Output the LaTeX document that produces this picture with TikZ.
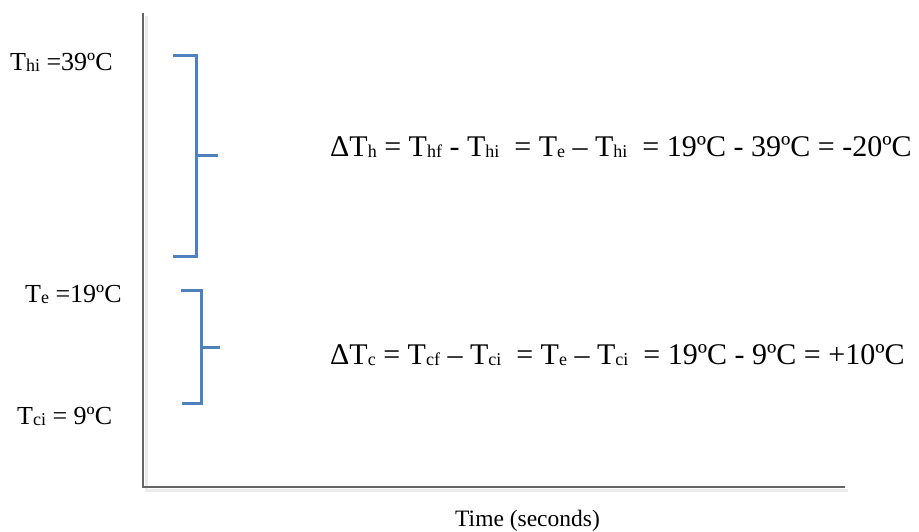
\documentclass[tikz,border=0pt]{standalone}
\usepackage{fontspec}
\setmainfont{Liberation Serif}
\begin{document}
\begin{tikzpicture}[x=1pt,y=-1pt,
  axis/.style={draw=black!60,line width=2.4pt},
  shade/.style={draw=black!8,line width=3pt},
  brk/.style={draw=brkblue,line width=3pt,line join=miter,line cap=butt},
  lbl/.style={anchor=base west,inner sep=0pt,font=\fontsize{26}{30}\selectfont},
  eqn/.style={anchor=base west,inner sep=0pt,font=\fontsize{30}{34}\selectfont},
  ttl/.style={anchor=base west,inner sep=0pt,font=\fontsize{23.5}{27}\selectfont}]
\definecolor{brkblue}{RGB}{79,129,189}
\newcommand\lo[1]{\raisebox{-1.5pt}{\fontsize{18}{18}\selectfont #1}}
\useasboundingbox (0,0) rectangle (919,531);
% axes
\coordinate (top) at (143,13);
\coordinate (org) at (143,487);
\coordinate (end) at (845,487);
\draw[shade] ([shift={(3,3)}]top) -- ([shift={(3,3)}]org) -- ([shift={(3,3)}]end);
\draw[axis] (top) -- (org) -- (end);
% upper bracket
\draw[brk] (173,55) -- (196,55) -- (196,256) -- (173,256);
\draw[brk] (196,155) -- (218,155);
% lower bracket
\draw[brk] (181,290) -- (201,290) -- (201,403) -- (182,403);
\draw[brk] (201,347) -- (220,347);
% labels
\node[lbl] (thi) at (10,70) {T\lo{hi} =39ºC};
\node[lbl] (te) at (25,302) {T\lo{e} =19ºC};
\node[lbl] (tci) at (17,424) {T\lo{ci} = 9ºC};
\node[eqn] (eqh) at (330,156) {ΔT\lo{h} = T\lo{hf} - T\lo{hi} \ = T\lo{e} – T\lo{hi} \ = 19ºC - 39ºC = -20ºC};
\node[eqn] (eqc) at (330,364) {ΔT\lo{c} = T\lo{cf} – T\lo{ci} \ = T\lo{e} – T\lo{ci} \ = 19ºC - 9ºC = +10ºC};
\node[ttl] (time) at (455,526) {Time (seconds)};
\end{tikzpicture}
\end{document}
